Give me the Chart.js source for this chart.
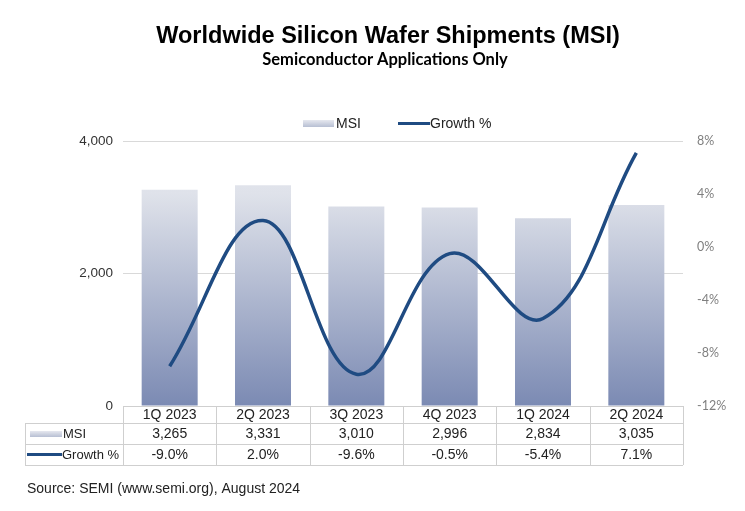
<!DOCTYPE html>
<html>
<head>
<meta charset="utf-8">
<script src="https://cdn.jsdelivr.net/npm/chart.js@4/dist/chart.umd.min.js"></script>
<style>
  html, body { margin: 0; padding: 0; background: #fff; }
  #wrap { width: 745px; height: 511px; position: relative; }
</style>
</head>
<body>
<div id="wrap"><canvas id="chart" width="745" height="511"></canvas></div>
<script>
const quarters = ['1Q 2023', '2Q 2023', '3Q 2023', '4Q 2023', '1Q 2024', '2Q 2024'];
const msi = [3265, 3331, 3010, 2996, 2834, 3035];
const growth = [-9.0, 2.0, -9.6, -0.5, -5.4, 7.1];
const msiLabels = ['3,265', '3,331', '3,010', '2,996', '2,834', '3,035'];
const growthLabels = ['-9.0%', '2.0%', '-9.6%', '-0.5%', '-5.4%', '7.1%'];

const lineColor = '#1f4b82';
const gridColor = '#d9d9d9';
const ARIAL = '"Liberation Sans", Arial, sans-serif';

function barGradient(ctx, area) {
  const g = ctx.createLinearGradient(0, area.top, 0, area.bottom);
  g.addColorStop(0, '#e6e8ef');
  g.addColorStop(0.2, '#dfe2ea');
  g.addColorStop(1, '#7b8ab3');
  return g;
}

// titles, legend, data table and source line
const extras = {
  id: 'extras',
  afterDraw(chart) {
    const ctx = chart.ctx;
    const area = chart.chartArea;
    const x = chart.scales.x;
    ctx.save();

    // title
    ctx.fillStyle = '#000';
    ctx.textAlign = 'center';
    ctx.textBaseline = 'middle';
    ctx.font = 'bold 23.5px ' + ARIAL;
    ctx.fillText('Worldwide Silicon Wafer Shipments (MSI)', 388, 37);
    ctx.font = 'bold 16.5px "Liberation Sans Narrow", Lato, sans-serif';
    ctx.fillText('Semiconductor Applications Only', 385, 60);

    // legend
    ctx.font = '14px ' + ARIAL;
    ctx.textAlign = 'left';
    ctx.fillStyle = '#222';
    let lg = ctx.createLinearGradient(0, 120, 0, 127);
    lg.addColorStop(0, '#e6e8ef');
    lg.addColorStop(1, '#b7bfd3');
    ctx.fillStyle = lg;
    ctx.fillRect(303, 120, 31, 7);
    ctx.fillStyle = '#222';
    ctx.fillText('MSI', 336, 124);
    ctx.strokeStyle = lineColor;
    ctx.lineWidth = 3;
    ctx.beginPath();
    ctx.moveTo(398, 123.5);
    ctx.lineTo(430, 123.5);
    ctx.stroke();
    ctx.fillText('Growth %', 430, 124);

    // data table
    const rows = [area.bottom, 423, 444, 465];
    const left = 25;
    ctx.strokeStyle = '#cfcfcf';
    ctx.lineWidth = 1;
    ctx.beginPath();
    ctx.moveTo(area.left, rows[0] + 0.5); ctx.lineTo(area.right, rows[0] + 0.5);
    for (let r = 1; r < rows.length; r++) {
      ctx.moveTo(left, rows[r] + 0.5); ctx.lineTo(area.right, rows[r] + 0.5);
    }
    ctx.moveTo(left + 0.5, rows[1]); ctx.lineTo(left + 0.5, rows[3]);
    const step = (area.right - area.left) / quarters.length;
    for (let i = 0; i <= quarters.length; i++) {
      const px = Math.round(area.left + i * step) + 0.5;
      ctx.moveTo(px, rows[0]); ctx.lineTo(px, rows[3]);
    }
    ctx.stroke();

    ctx.fillStyle = '#222';
    ctx.font = '14px ' + ARIAL;
    ctx.textAlign = 'center';
    quarters.forEach((q, i) => {
      const cx = x.getPixelForValue(i);
      ctx.fillText(q, cx, (rows[0] + rows[1]) / 2 + 1);
      ctx.fillText(msiLabels[i], cx, (rows[1] + rows[2]) / 2 + 1);
      ctx.fillText(growthLabels[i], cx, (rows[2] + rows[3]) / 2 + 1);
    });

    // table legend keys
    lg = ctx.createLinearGradient(0, 431, 0, 437);
    lg.addColorStop(0, '#e6e8ef');
    lg.addColorStop(1, '#b7bfd3');
    ctx.fillStyle = lg;
    ctx.fillRect(30, 431, 32, 6);
    ctx.strokeStyle = lineColor;
    ctx.lineWidth = 3;
    ctx.beginPath();
    ctx.moveTo(27, 454.5);
    ctx.lineTo(62, 454.5);
    ctx.stroke();
    ctx.fillStyle = '#222';
    ctx.textAlign = 'left';
    ctx.font = '13px ' + ARIAL;
    ctx.fillText('MSI', 63, 434);
    ctx.fillText('Growth %', 62, 455);

    // source
    ctx.font = '14px ' + ARIAL;
    ctx.fillText('Source: SEMI (www.semi.org), August 2024', 27, 489);
    ctx.restore();
  }
};

new Chart(document.getElementById('chart'), {
  data: {
    labels: quarters,
    datasets: [
      {
        type: 'line',
        label: 'Growth %',
        data: growth,
        yAxisID: 'y1',
        borderColor: lineColor,
        borderWidth: 3.5,
        pointRadius: 0,
        tension: 0.4,
        fill: false,
        order: 0
      },
      {
        type: 'bar',
        label: 'MSI',
        data: msi,
        yAxisID: 'y',
        backgroundColor: (c) => {
          const a = c.chart.chartArea;
          if (!a) return '#c0c7da';
          return barGradient(c.chart.ctx, a);
        },
        categoryPercentage: 1,
        barPercentage: 0.6,
        order: 1
      }
    ]
  },
  options: {
    responsive: false,
    animation: false,
    layout: { padding: { top: 141, bottom: 105, left: 0, right: 0 } },
    plugins: {
      legend: { display: false },
      title: { display: false },
      tooltip: { enabled: false }
    },
    scales: {
      x: {
        display: false,
        offset: true
      },
      y: {
        position: 'left',
        min: 0,
        max: 4000,
        afterFit: (s) => { s.width = 123; },
        border: { display: false },
        grid: { color: (c) => c.tick.value === 0 ? 'rgba(0,0,0,0)' : gridColor, drawTicks: false },
        ticks: {
          stepSize: 2000,
          padding: 10,
          color: '#333',
          font: { family: ARIAL, size: 13.5 },
          callback: (v) => v.toLocaleString('en-US')
        }
      },
      y1: {
        position: 'right',
        min: -12,
        max: 8,
        afterFit: (s) => { s.width = 62; },
        border: { display: false },
        grid: { display: false, drawTicks: false },
        ticks: {
          stepSize: 4,
          padding: 14,
          color: '#7f7f7f',
          font: { family: 'Lato, "Open Sans", sans-serif', size: 12.5 },
          callback: (v) => v + '%'
        }
      }
    }
  },
  plugins: [extras]
});
</script>
</body>
</html>
